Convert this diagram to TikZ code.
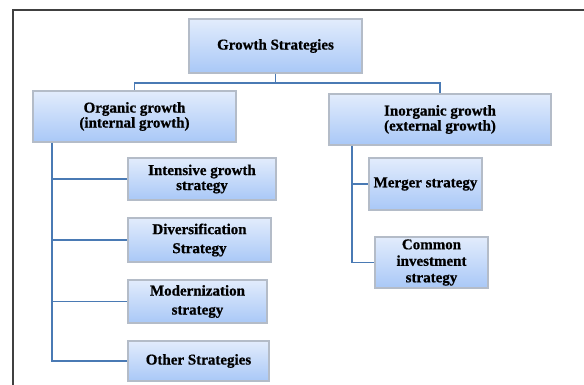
\documentclass[tikz,border=0pt]{standalone}
\usepackage{fontspec}
\setmainfont{Liberation Serif}[BoldFeatures={FakeBold=0.8}]
\begin{document}
\begin{tikzpicture}[x=1pt,y=-1pt,
  box/.style={draw=boxline, line width=1.4pt, top color=boxtop, bottom color=boxbot,
    align=center, inner sep=0pt, font=\bfseries\fontsize{15}{15}\selectfont},
  conn/.style={draw=connc, line width=1.8pt}]
\definecolor{boxtop}{HTML}{E2ECFC}
\definecolor{boxbot}{HTML}{A9C8F7}
\definecolor{boxline}{HTML}{B4BCC8}
\definecolor{connc}{HTML}{4A7AB4}
\useasboundingbox (0,0) rectangle (584,385);
\fill[white] (0,0) rectangle (584,385);
\draw[line width=1.3pt, color=black!75] (13,385) -- (13,10) -- (584,10);

\node[box, minimum width=173pt, minimum height=54pt] (gs) at (275.5,46) {Growth Strategies};
\node[box, minimum width=203pt, minimum height=51pt, font=\bfseries\fontsize{15}{15}\selectfont] (org) at (134.5,116.5)
  {Organic growth\\(internal growth)};
\node[box, minimum width=222pt, minimum height=51pt, font=\bfseries\fontsize{15}{15}\selectfont] (inorg) at (440,119.5)
  {Inorganic growth\\(external growth)};

\node[box, minimum width=148pt, minimum height=42pt, font=\bfseries\fontsize{15}{15}\selectfont] (int) at (202,179)
  {Intensive growth\\strategy};
\node[box, minimum width=143pt, minimum height=44pt, font=\bfseries\fontsize{15}{19}\selectfont] (div) at (199.5,240)
  {Diversification\\Strategy};
\node[box, minimum width=139pt, minimum height=43pt, font=\bfseries\fontsize{15}{19}\selectfont] (mod) at (197.5,301.5)
  {Modernization\\strategy};
\node[box, minimum width=141pt, minimum height=40pt] (oth) at (198.5,361) {Other Strategies};

\node[box, minimum width=113pt, minimum height=52pt] (mer) at (425.5,184) {Merger strategy};
\node[box, minimum width=113pt, minimum height=51pt, font=\bfseries\fontsize{15}{16.5}\selectfont] (com) at (431.5,262.5)
  {Common\\investment\\strategy};

\coordinate (bus) at (0,83);
\coordinate (lv) at (52,0);
\coordinate (rv) at (352,0);

\draw[conn] (gs.south) -- (gs.south |- bus) -| (org.north);
\draw[conn] (gs.south |- bus) -| (inorg.north);

\draw[conn] (org.south -| lv) |- (oth.west);
\draw[conn] (int.west -| lv) -- (int.west);
\draw[conn] (div.west -| lv) -- (div.west);
\draw[conn] (mod.west -| lv) -- (mod.west);

\draw[conn] (inorg.south -| rv) |- (com.west);
\draw[conn] (mer.west -| rv) -- (mer.west);
\end{tikzpicture}
\end{document}
